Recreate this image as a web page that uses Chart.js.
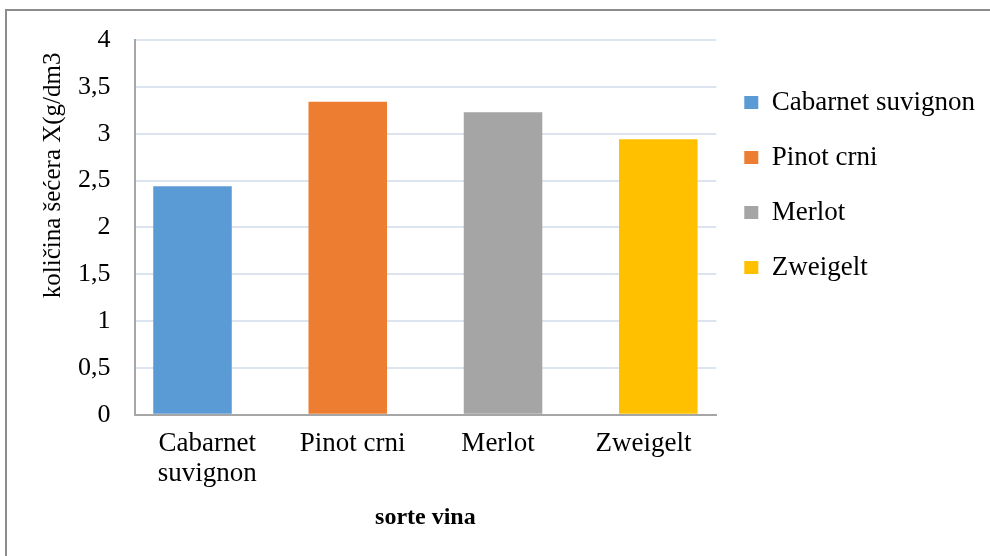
<!DOCTYPE html>
<html>
<head>
<meta charset="utf-8">
<script src="https://cdn.jsdelivr.net/npm/chart.js@4"></script>
<style>
  body { margin: 0; background: #fff; }
  #wrap { position: relative; width: 990px; height: 556px; }
  #frame { position: absolute; left: 5px; top: 9px; right: -5px; bottom: -5px; border-top: 2px solid #8c8c8c; border-left: 2px solid #8c8c8c; pointer-events: none; }
</style>
</head>
<body>
<div id="wrap">
  <canvas id="vinoChart" width="990" height="556"></canvas>
  <div id="frame"></div>
</div>
<script>
// podaci s grafikona
var sorte = ['Cabarnet suvignon', 'Pinot crni', 'Merlot', 'Zweigelt'];
var oznakeX = [['Cabarnet', 'suvignon'], 'Pinot crni', 'Merlot', 'Zweigelt'];
var kolicinaSecera = [2.44, 3.34, 3.23, 2.94];
var boje = ['#5b9bd5', '#ed7d31', '#a5a5a5', '#ffc000'];

var serif = 'Liberation Serif, Times New Roman, serif';

// svaka sorta je posebna serija (kao u Excelu), vrijednost samo u svojoj kategoriji
var skupovi = sorte.map(function (s, i) {
    return {
        label: s,
        data: sorte.map(function (x, j) { return j === i ? kolicinaSecera[i] : null; }),
        backgroundColor: boje[i],
        borderWidth: 0,
        categoryPercentage: 0.27,
        barPercentage: 8.0
    };
});

var vinoChart = new Chart(document.getElementById('vinoChart'), {
    type: 'bar',
    data: {
        labels: oznakeX,
        datasets: skupovi
    },
    options: {
        responsive: false,
        animation: false,
        layout: {
            padding: { left: 10, top: 40, right: 5, bottom: 24 }
        },
        plugins: {
            tooltip: { enabled: false },
            legend: {
                position: 'right',
                align: 'start',
                maxWidth: 300,
                title: {
                    display: true,
                    text: '',
                    font: { size: 1, lineHeight: 1 },
                    padding: { top: 20, bottom: 0 }
                },
                labels: {
                    boxWidth: 14,
                    boxHeight: 13,
                    padding: 28,
                    color: '#000',
                    font: { family: serif, size: 27 }
                }
            }
        },
        scales: {
            x: {
                grid: { display: false, drawTicks: false },
                border: { display: true, color: '#a6a6a6', width: 2 },
                ticks: {
                    color: '#000',
                    padding: 14,
                    maxRotation: 0,
                    font: { family: serif, size: 27, lineHeight: 1.12 }
                },
                title: {
                    display: true,
                    text: 'sorte vina',
                    color: '#000',
                    padding: { top: 0, bottom: 0 },
                    font: { family: serif, size: 24, weight: 'bold' }
                }
            },
            y: {
                min: 0,
                max: 4,
                grid: { color: '#dbe4ef', lineWidth: 2, drawTicks: false },
                border: { display: true, color: '#a6a6a6', width: 2 },
                ticks: {
                    stepSize: 0.5,
                    color: '#000',
                    padding: 24,
                    font: { family: serif, size: 26 },
                    callback: function (v) { return String(v).replace('.', ','); }
                },
                title: {
                    display: true,
                    text: 'količina šećera X(g/dm3  ',
                    align: 'end',
                    color: '#000',
                    padding: { top: 43, bottom: 0 },
                    font: { family: serif, size: 25, lineHeight: '1px' }
                }
            }
        }
    }
});
</script>
</body>
</html>
